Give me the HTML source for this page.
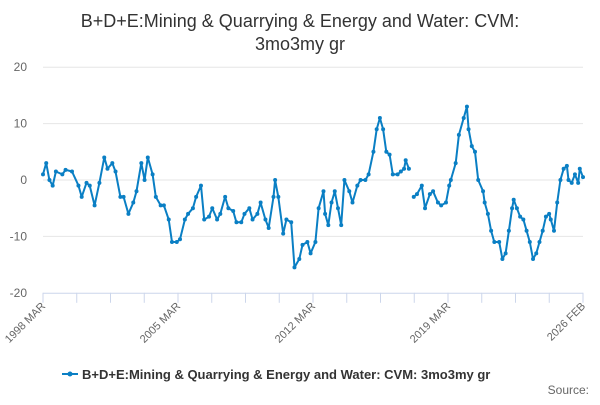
<!DOCTYPE html>
<html><head><meta charset="utf-8"><style>
body{margin:0;background:#fff;font-family:"Liberation Sans",sans-serif;}
svg text{font-family:"Liberation Sans",sans-serif;}
</style></head><body>
<svg id="chart" width="600" height="400" xmlns="http://www.w3.org/2000/svg">
<text x="300" y="27" text-anchor="middle" font-size="18" fill="#333">B+D+E:Mining &amp; Quarrying &amp; Energy and Water: CVM:</text>
<text x="300" y="50" text-anchor="middle" font-size="18" fill="#333">3mo3my gr</text>
<g id="grid"></g><g id="xaxis"></g><g id="series"></g>
<g>
<line x1="62" y1="374" x2="78" y2="374" stroke="#0a7fc4" stroke-width="2"/>
<circle cx="70" cy="374" r="2.5" fill="#0a7fc4"/>
<text x="82" y="379" font-size="13" font-weight="bold" fill="#333">B+D+E:Mining &amp; Quarrying &amp; Energy and Water: CVM: 3mo3my gr</text>
</g>
<text x="589" y="394" text-anchor="end" font-size="12" fill="#666">Source:</text>
</svg>
<script>
const yTicks=[20,10,0,-10,-20];
const xLabels=["1998 MAR","2005 MAR","2012 MAR","2019 MAR","2026 FEB"];
const totalMonths=335;
const px=[43,46,49,52,56,62,66,72,78,82,86,90,95,100,104,108,112,116,120,124,128,133,137,141,145,148,152,156,160,164,168,172,176,180,184,188,192,196,200,204,208,212,216,220,224,228,232,236,240,244,248,252,256,260,264,268,272,275,278,282,286,290,294,298,302,306,310,314,318,322,325,328,331,334,337,340,344,348,352,356,360,364,368,372,376,379,382,385,388,392,396,399,403,405,408,410,412,416,420,424,428,432,436,440,444,448,450,454,458,462,465,468,471,474,477,481,484,487,490,493,497,501,504,507,510,513,516,519,522,525,528,531,535,538,541,544,547,550,553,556,559,562,565,567,570,573,576,578,581,583];
const months=px.map(x=>Math.round((x-43)/1.607));
const values=[1,3,0,-1,1.5,1,1.8,1.5,-1,-3,-0.5,-1,-4.5,-0.5,4,2,3,1.5,-3,-3,-6,-4,-2,3,0,4,1,-3,-4.5,-4.5,-7,-11,-11,-10.5,-7,-6,-5,-3,-1,-7,-6.5,-5,-7,-6,-3,-5,-5.5,-7.5,-7.5,-6,-5,-7,-6,-4,-7,-8.5,-3,0,-3,-9.5,-7,-7.5,-15.5,-14,-11.5,-11,-13,-11,-5,-2,-6,-8,-4,-2,-5,-8,0,-2,-4,-1,0,0,1,5,9,11,9,5,4.5,1,1,1.5,2,3.5,2,null,-3,-2.5,-1,-5,-2.5,-2,-4,-4.5,-4,-1,0,3,8,11,13,9,6,5,0,-2,-4,-6,-9,-11,-11,-14,-13,-9,-5,-3.5,-5,-6.5,-7,-9,-11,-14,-13,-11,-9,-6.5,-6,-7,-9,-4,0,2,2.5,0,-0.5,1,-0.5,2,0.5];
const NS="http://www.w3.org/2000/svg";
const X0=43,X1=583,Y0=180,PU=5.64;
const xs=m=>X0+(X1-X0)*m/totalMonths;
const ys=v=>Y0-v*PU;
const grid=document.getElementById('grid'),xa=document.getElementById('xaxis'),ser=document.getElementById('series');
function mk(t,a,p){const e=document.createElementNS(NS,t);for(const k in a)e.setAttribute(k,a[k]);p.appendChild(e);return e;}
yTicks.forEach(v=>{
 if(v!==-20){const l=mk('line',{x1:X0,x2:X1,y1:ys(v),y2:ys(v),stroke:'#e6e6e6'},grid);
 
 }
 const t=mk('text',{x:27,y:ys(v)+4,'text-anchor':'end','font-size':12,fill:'#666'},grid);t.textContent=v;
 
 
});
mk('line',{x1:X0,x2:X1,y1:ys(-20)+0.5,y2:ys(-20)+0.5,stroke:'#ccd6eb'},xa);
for(let i=0;i<=16;i++){const x=X0+i*(X1-X0)/16;mk('line',{x1:x,x2:x,y1:ys(-20),y2:ys(-20)+10,stroke:'#ccd6eb'},xa);}
xLabels.forEach((s,i)=>{const x=X0+i*4*(X1-X0)/16,y=ys(-20)+14;
 const t=mk('text',{x:x+3,y:y,'text-anchor':'end','font-size':11,fill:'#666',transform:`rotate(-45 ${x+3} ${y})`},xa);t.textContent=s;
 
 
});
let d='',pen=false;
const n=Math.min(values.length,months.length);
for(let i=0;i<n;i++){const v=values[i];if(v===null){pen=false;continue;}d+=(pen?'L':'M')+xs(months[i]).toFixed(1)+','+ys(v).toFixed(1);pen=true;}
const path=mk('path',{d:d,fill:'none',stroke:'#0a7fc4','stroke-width':2,'stroke-linejoin':'round'},ser);


for(let i=0;i<n;i++){const v=values[i];if(v===null)continue;const c=mk('circle',{cx:xs(months[i]),cy:ys(v),r:2,fill:'#0a7fc4'},ser);
 
 }
</script>
</body></html>
